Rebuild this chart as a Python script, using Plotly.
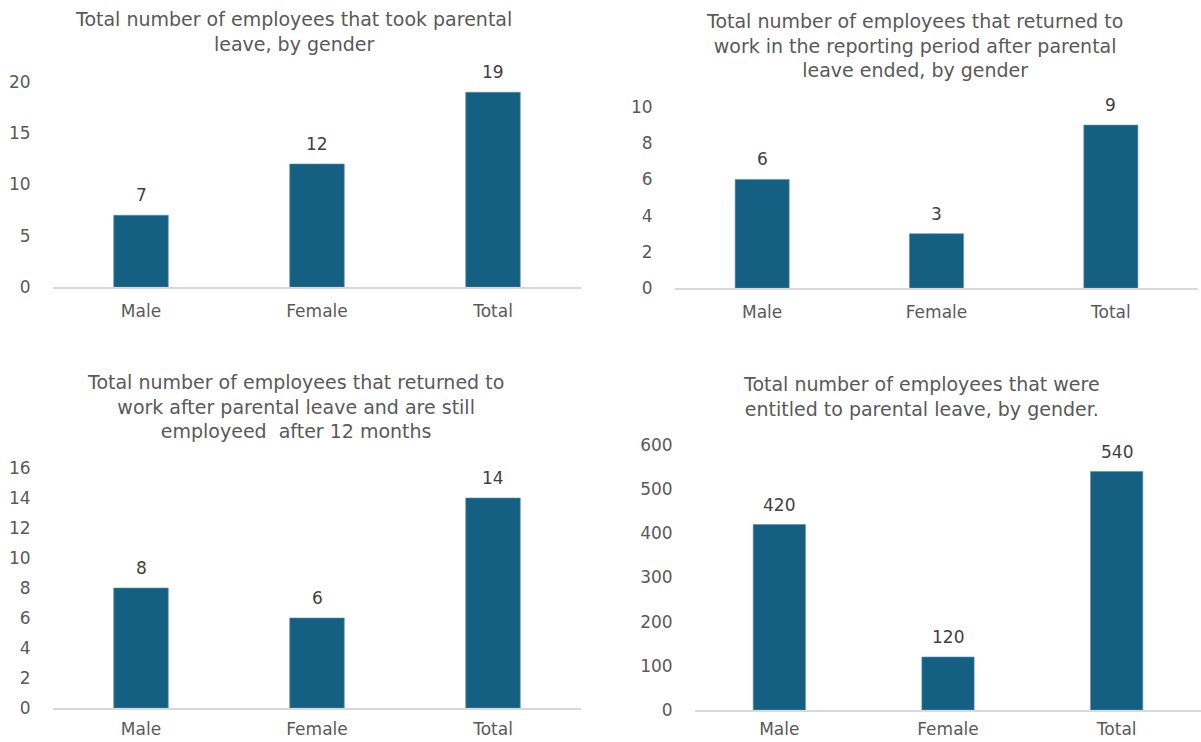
import plotly.graph_objects as go

categories = ["Male", "Female", "Total"]
took_leave = [7, 12, 19]
returned_after_leave = [6, 3, 9]
still_employed_12m = [8, 6, 14]
entitled_to_leave = [420, 120, 540]

titles = [
    "Total number of employees that took parental<br>leave, by gender",
    "Total number of employees that returned to<br>work in the reporting period after parental<br>leave ended, by gender",
    "Total number of employees that returned to<br>work after parental leave and are still<br>employeed  after 12 months",
    "Total number of employees that were<br>entitled to parental leave, by gender.",
]
series = [took_leave, returned_after_leave, still_employed_12m, entitled_to_leave]
y_ranges = [[0, 20], [0, 10], [0, 16], [0, 600]]
y_dticks = [5, 2, 2, 100]

W, H = 1201, 742
# pixel layout of plot areas: (x0, x1, y_top, y_bottom)
areas = [(53, 581, 82, 287), (675, 1198, 107, 288), (53, 581, 468, 708), (695, 1203, 445, 710)]
title_pos = [(293, 32), (914, 46), (295, 407), (921, 396)]
xlab_gap = [8, 8, 5, 3]

BAR = "#156082"
TXT = "#595959"
FONT = "DejaVu Sans"

fig = go.Figure()
for i in range(4):
    n = "" if i == 0 else str(i + 1)
    x0, x1, yt, yb = areas[i]
    fig.add_trace(go.Bar(
        x=categories, y=series[i], xaxis="x" + n, yaxis="y" + n,
        marker=dict(color=BAR, line=dict(color="#5b8fa8", width=0.6)),
        width=0.31, showlegend=False, hoverinfo="x+y",
    ))
    fig.update_layout({
        "xaxis" + n: dict(domain=[x0 / W, min(x1 / W, 1)], anchor="y" + n, automargin=False,
                          showline=True, linecolor="#d9d9d9", linewidth=1.5,
                          showgrid=False, zeroline=False, ticks="outside", ticklen=xlab_gap[i],
                          tickcolor="rgba(0,0,0,0)",
                          tickfont=dict(family=FONT, size=17, color=TXT)),
        "yaxis" + n: dict(domain=[1 - yb / H, 1 - yt / H], anchor="x" + n, automargin=False,
                          range=y_ranges[i], dtick=y_dticks[i],
                          showline=False, showgrid=False, zeroline=False,
                          ticks="outside", ticklen=18, tickcolor="rgba(0,0,0,0)",
                          tickfont=dict(family=FONT, size=17, color=TXT)),
    })
    for c, v in zip(categories, series[i]):
        fig.add_annotation(x=c, y=v, xref="x" + n, yref="y" + n, text=str(v),
                           showarrow=False, yanchor="bottom", yshift=8,
                           font=dict(family=FONT, size=17, color="#404040"))
    tx, ty = title_pos[i]
    fig.add_annotation(x=tx / W, y=1 - ty / H, xref="paper", yref="paper",
                       text=titles[i], showarrow=False, xanchor="center", yanchor="middle",
                       align="center", font=dict(family=FONT, size=19, color=TXT))

fig.update_layout(width=W, height=H, margin=dict(l=0, r=0, t=0, b=0, autoexpand=False),
                  paper_bgcolor="white", plot_bgcolor="white", bargap=0.69)
fig.write_html("out.html")
